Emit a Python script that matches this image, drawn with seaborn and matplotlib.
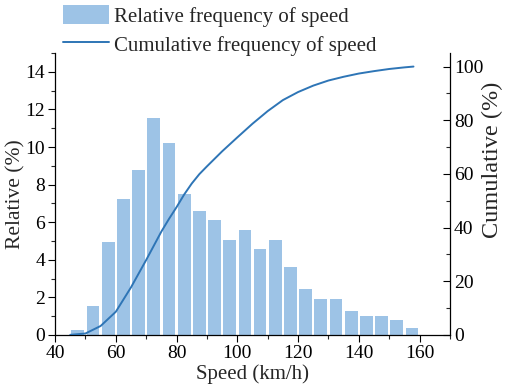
import numpy as np
import pandas as pd
import matplotlib
matplotlib.use("Agg")
import matplotlib.pyplot as plt
import seaborn as sns
from matplotlib.ticker import MultipleLocator
from matplotlib.patches import Patch
from matplotlib.lines import Line2D

# ---- data ----
speed_bins = [47.5, 52.5, 57.5, 62.5, 67.5, 72.5, 77.5, 82.5, 87.5, 92.5, 97.5, 102.5,
              107.5, 112.5, 117.5, 122.5, 127.5, 132.5, 137.5, 142.5, 147.5, 152.5, 157.5]
relative_freq = [0.25, 1.53, 4.93, 7.24, 8.80, 11.57, 10.22, 7.49, 6.62, 6.09, 5.04, 5.56,
                 4.55, 5.03, 3.61, 2.45, 1.92, 1.92, 1.27, 1.00, 1.00, 0.77, 0.35]
cum_speed = [45, 50, 55, 60, 65, 70, 75, 77.5, 80, 82.5, 85, 87.5, 90, 95, 100, 105, 110,
             115, 120, 125, 130, 135, 140, 145, 150, 155, 158]
cum_freq = [0.0, 0.5, 3.3, 8.6, 17.7, 27.9, 38.5, 43.2, 47.6, 52.3, 56.4, 59.9, 62.8, 68.4,
            73.6, 78.7, 83.4, 87.5, 90.5, 92.9, 94.8, 96.2, 97.4, 98.3, 99.1, 99.7, 100.0]

bar_color = "#9DC3E6"
line_color = "#2E75B6"

sns.set_style("ticks")
plt.rcParams['font.family'] = ['Liberation Serif', 'DejaVu Serif']
plt.rcParams['font.size'] = 14

fig = plt.figure(figsize=(5.05, 3.88), dpi=100)
ax = fig.add_axes([0.109, 0.137, 0.782, 0.726])

df_bar = pd.DataFrame({"speed": speed_bins, "rel": relative_freq})
sns.barplot(data=df_bar, x="speed", y="rel", native_scale=True, color=bar_color,
            saturation=1, width=0.84, ax=ax, linewidth=0, edgecolor="none")

ax2 = ax.twinx()
df_cum = pd.DataFrame({"speed": cum_speed, "cum": cum_freq})
sns.lineplot(data=df_cum, x="speed", y="cum", color=line_color, linewidth=1.4, ax=ax2)

ax.set_xlim(40, 170)
ax.set_ylim(0, 15)
ax2.set_ylim(0, 105)

ax.xaxis.set_major_locator(MultipleLocator(20))
ax.xaxis.set_minor_locator(MultipleLocator(10))
ax.yaxis.set_major_locator(MultipleLocator(2))
ax.yaxis.set_minor_locator(MultipleLocator(1))
ax2.yaxis.set_major_locator(MultipleLocator(20))
ax2.yaxis.set_minor_locator(MultipleLocator(10))

ax.tick_params(axis='both', which='major', direction='out', length=5, width=0.8,
               labelsize=14, colors='black', pad=2)
ax.tick_params(axis='both', which='minor', direction='out', length=3, width=0.8)
ax2.tick_params(axis='y', which='major', direction='in', length=5, width=0.8,
                labelsize=14, colors='black', pad=3)
ax2.tick_params(axis='y', which='minor', direction='in', length=3, width=0.8)

for a in (ax, ax2):
    for s in a.spines.values():
        s.set_color('black')
        s.set_linewidth(0.9)
    a.spines['top'].set_visible(False)

ax.spines['right'].set_visible(False)
ax2.spines['left'].set_visible(False)
ax2.spines['bottom'].set_visible(False)

ax.set_xlabel("Speed (km/h)", fontsize=15, labelpad=2)
ax.set_ylabel("Relative (%)", fontsize=15.5)
ax.yaxis.set_label_coords(-0.076, 0.5)
ax2.set_ylabel("Cumulative (%)", fontsize=17.5)
ax2.yaxis.set_label_coords(1.08, 0.62)

handles = [Patch(facecolor=bar_color, edgecolor='none'),
           Line2D([0], [0], color=line_color, linewidth=1.4)]
fig.legend(handles, ["Relative frequency of speed", "Cumulative frequency of speed"],
           loc='upper left', bbox_to_anchor=(0.1, 1.02), frameon=False,
           fontsize=15, handlelength=2.2, handleheight=1.06, handletextpad=0.25,
           labelspacing=0.35, borderpad=0.1)

fig.savefig("out.png", dpi=100)
